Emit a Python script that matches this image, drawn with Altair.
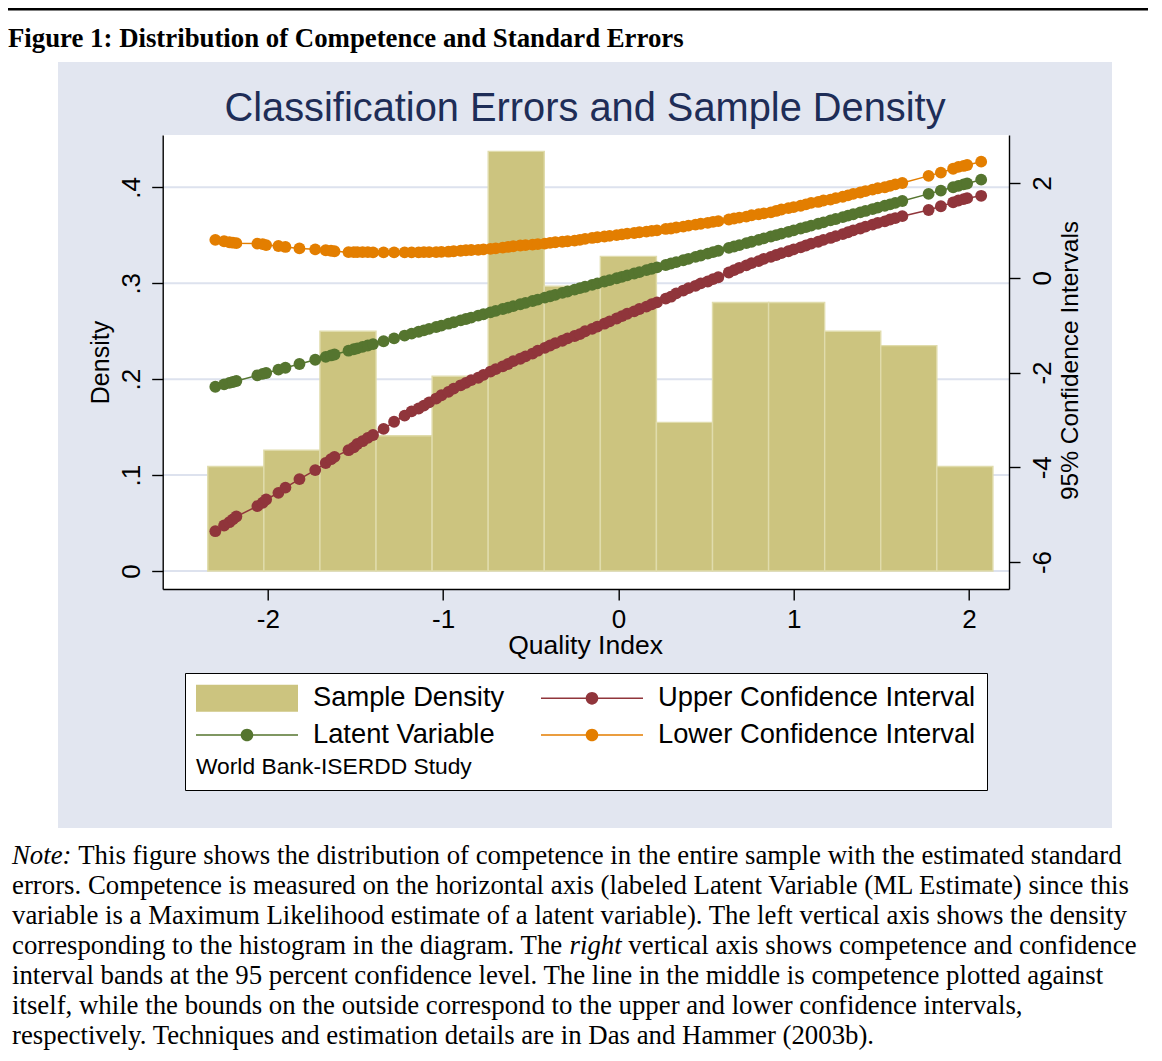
import altair as alt
import pandas as pd

# ---------------- data ----------------
bin_edges = [-2.343, -2.023, -1.703, -1.383, -1.063, -0.743, -0.423,
             -0.103, 0.217, 0.537, 0.857, 1.177, 1.497, 1.817, 2.137]
bin_density = [0.109, 0.126, 0.250, 0.141, 0.203, 0.4375, 0.297,
               0.328, 0.155, 0.280, 0.280, 0.250, 0.235, 0.109]

latent = [-2.30, -2.25, -2.22, -2.20, -2.18, -2.06, -2.03, -2.01, -1.94, -1.90,
          -1.82, -1.73, -1.67, -1.64, -1.62, -1.54, -1.51, -1.49, -1.46, -1.43,
          -1.40, -1.34, -1.28, -1.22, -1.18, -1.14, -1.11, -1.08, -1.04, -1.01,
          -0.97, -0.94, -0.90, -0.87, -0.84, -0.80, -0.77, -0.73, -0.70, -0.66,
          -0.63, -0.60, -0.56, -0.53, -0.49, -0.46, -0.42, -0.39, -0.36, -0.32,
          -0.29, -0.25, -0.22, -0.19, -0.15, -0.12, -0.08, -0.05, -0.01, 0.02,
          0.05, 0.09, 0.12, 0.16, 0.19, 0.22,
          0.27, 0.30, 0.33, 0.37, 0.40, 0.44, 0.47, 0.51, 0.54, 0.57,
          0.63, 0.66, 0.69, 0.73, 0.76, 0.80, 0.83, 0.87, 0.90, 0.93,
          0.97, 1.00, 1.04, 1.07, 1.10, 1.14, 1.17, 1.21, 1.24, 1.28,
          1.31, 1.34, 1.38, 1.41, 1.45, 1.48, 1.52, 1.55, 1.58, 1.62,
          1.77, 1.84, 1.91, 1.94, 1.97, 1.99, 2.07]

upper_ci = [-5.35, -5.23, -5.16, -5.10, -5.04, -4.82, -4.75, -4.68, -4.54, -4.43,
            -4.25, -4.06, -3.91, -3.83, -3.78, -3.64, -3.58, -3.51, -3.45, -3.38,
            -3.32, -3.19, -3.04, -2.91, -2.82, -2.76, -2.70, -2.63, -2.55, -2.48,
            -2.41, -2.34, -2.27, -2.22, -2.16, -2.11, -2.05, -1.98, -1.93, -1.87,
            -1.82, -1.76, -1.71, -1.66, -1.60, -1.54, -1.48, -1.43, -1.38, -1.33,
            -1.28, -1.23, -1.19, -1.13, -1.08, -1.03, -0.97, -0.92, -0.86, -0.81,
            -0.76, -0.71, -0.66, -0.61, -0.56, -0.52,
            -0.44, -0.40, -0.33, -0.27, -0.22, -0.17, -0.12, -0.08, -0.03, 0.01,
            0.11, 0.16, 0.21, 0.26, 0.31, 0.35, 0.40, 0.44, 0.48, 0.52,
            0.56, 0.60, 0.64, 0.68, 0.72, 0.76, 0.80, 0.84, 0.88, 0.92,
            0.96, 1.00, 1.04, 1.08, 1.12, 1.16, 1.19, 1.23, 1.26, 1.30,
            1.43, 1.51, 1.59, 1.63, 1.66, 1.68, 1.73]

lower_ci = [0.80, 0.77, 0.75, 0.74, 0.73, 0.72, 0.71, 0.69, 0.67, 0.65,
            0.62, 0.60, 0.58, 0.57, 0.56, 0.54, 0.54, 0.54, 0.54, 0.54,
            0.535, 0.535, 0.535, 0.535, 0.535, 0.535, 0.54, 0.54, 0.54, 0.545,
            0.55, 0.56, 0.57, 0.58, 0.585, 0.59, 0.60, 0.61, 0.62, 0.635,
            0.65, 0.665, 0.68, 0.69, 0.70, 0.71, 0.72, 0.735, 0.75, 0.76,
            0.77, 0.785, 0.80, 0.82, 0.84, 0.855, 0.87, 0.885, 0.90, 0.915,
            0.93, 0.945, 0.96, 0.975, 0.99, 1.00,
            1.03, 1.04, 1.06, 1.08, 1.10, 1.12, 1.14, 1.16, 1.18, 1.195,
            1.23, 1.25, 1.27, 1.29, 1.32, 1.34, 1.36, 1.38, 1.41, 1.44,
            1.47, 1.49, 1.52, 1.55, 1.58, 1.60, 1.63, 1.65, 1.68, 1.71,
            1.74, 1.77, 1.80, 1.83, 1.86, 1.89, 1.91, 1.94, 1.97, 2.00,
            2.15, 2.22, 2.30, 2.34, 2.36, 2.38, 2.45]

x_ticks = [-2, -1, 0, 1, 2]
density_ticks = [0, 0.1, 0.2, 0.3, 0.4]
ci_ticks = [-6, -4, -2, 0, 2]

series_names = ["Sample Density", "Latent Variable",
                "Upper Confidence Interval", "Lower Confidence Interval"]

header_text = "Figure 1: Distribution of Competence and Standard Errors"
chart_title = "Classification Errors and Sample Density"
legend_note = "World Bank-ISERDD Study"
x_title = "Quality Index"
y_left_title = "Density"
y_right_title = "95% Confidence Intervals"

# note paragraph: list of lines, each line a list of (text, style, offset in em)
note_lines = [
    [("Note:", "italic", 0.0),
     ("This figure shows the distribution of competence in the entire sample with the estimated standard", "normal", 2.472)],
    [("errors. Competence is measured on the horizontal axis (labeled Latent Variable (ML Estimate) since this", "normal", 0.0)],
    [("variable is a Maximum Likelihood estimate of a latent variable). The left vertical axis shows the density", "normal", 0.0)],
    [("corresponding to the histogram in the diagram. The", "normal", 0.0),
     ("right", "italic", 20.803),
     ("vertical axis shows competence and confidence", "normal", 22.998)],
    [("interval bands at the 95 percent confidence level. The line in the middle is competence plotted against", "normal", 0.0)],
    [("itself, while the bounds on the outside correspond to the upper and lower confidence intervals,", "normal", 0.0)],
    [("respectively. Techniques and estimation details are in Das and Hammer (2003b).", "normal", 0.0)],
]

# ---------------- styling ----------------
SANS = "Liberation Sans"
SERIF = "Liberation Serif"
KHAKI = "#CCC47F"
KHAKI_EDGE = "#E0DCAC"
GREEN = "#55752F"
MAROON = "#90353B"
ORANGE = "#E37E00"
PANEL = "#E2E6F0"
GRID = "#DDE2EE"
TITLE_C = "#1E2D57"

W, H = 846.3, 454.0          # plot area
X0, Y0 = 162.7, 135.0        # plot area's top-left corner on the page
PAGE_W, PAGE_H = 1140, 1045


def px(sx):
    return sx - X0


def py(sy):
    return sy - Y0


xs = alt.Scale(domain=[-2.6003, 2.2288], nice=False, zero=False)
yL = alt.Scale(domain=[-0.01877, 0.4546], nice=False, zero=False)
yR = alt.Scale(domain=[-6.5699, 3.0132], nice=False, zero=False)

one = pd.DataFrame({"k": [0]})


def rect_layer(sx1, sx2, sy1, sy2, color):
    return alt.Chart(one).mark_rect(color=color).encode(
        x=alt.value(px(sx1)), x2=alt.value(px(sx2)),
        y=alt.value(py(sy1)), y2=alt.value(py(sy2)))


def text_layer(txt, sx, sy, size, font=SERIF, style="normal", weight="normal",
               color="black", align="left"):
    return alt.Chart(one).mark_text(
        text=txt, font=font, fontSize=size, fontStyle=style, fontWeight=weight,
        color=color, align=align, baseline="alphabetic").encode(
        x=alt.value(px(sx)), y=alt.value(py(sy)))


common_axis = dict(tickSize=11, tickWidth=1.4, tickColor="black", domainColor="black",
                   domainWidth=1.4, labelFont=SANS, labelFontSize=26, labelColor="black",
                   titleFont=SANS, titleFontWeight="normal",
                   titleColor="black", grid=False, labelFlush=False, zindex=1,
                   titleLimit=700, labelOverlap=False)

x_axis = alt.Axis(title=x_title, values=x_ticks, labelExpr="datum.value + ''",
                  labelAngle=0, labelAlign="center", labelBaseline="top", labelPadding=6,
                  titleAlign="center", titleBaseline="alphabetic", titleX=W / 2 - 0.8,
                  titleY=64.5, titleFontSize=26.5, **common_axis)
yL_axis = alt.Axis(title=y_left_title, orient="left", values=density_ticks,
                   labelExpr="datum.value == 0 ? '0' : replace(format(datum.value, '.1f'), '0.', '.')",
                   labelAngle=270, labelAlign="center", labelBaseline="bottom", labelPadding=7,
                   titleAngle=270, titleAlign="center", titleBaseline="alphabetic",
                   titleX=-54.7, titleY=227, titleFontSize=25, **common_axis)
yR_axis = alt.Axis(title=y_right_title, orient="right", values=ci_ticks,
                   labelExpr="datum.value + ''",
                   labelAngle=270, labelAlign="center", labelBaseline="top", labelPadding=9,
                   titleAngle=270, titleAlign="center", titleBaseline="alphabetic",
                   titleX=68, titleY=225, titleFontSize=24.5, **common_axis)

# ---------------- left group: page decoration + histogram ----------------
panel = rect_layer(58, 1112, 62, 828, PANEL)
top_rule = rect_layer(8, 8 + PAGE_W, 8, 10.5, "black")
plot_bg = rect_layer(X0, X0 + W, Y0, Y0 + H, "white")

grid = alt.Chart(pd.DataFrame({"g": density_ticks})).mark_rule(
    color=GRID, strokeWidth=2).encode(
    y=alt.Y("g:Q", scale=yL), x=alt.value(0), x2=alt.value(W))

hist_df = pd.DataFrame({"x0": bin_edges[:-1], "x1": bin_edges[1:], "density": bin_density})
bars = alt.Chart(hist_df).mark_rect(color=KHAKI, stroke=KHAKI_EDGE, strokeWidth=1.4).encode(
    x=alt.X("x0:Q", scale=xs, axis=x_axis),
    x2="x1:Q",
    y=alt.Y("density:Q", scale=yL, axis=yL_axis),
    y2=alt.datum(0))

header = text_layer(header_text, 8, 47, 26.8, weight="bold")
title = text_layer(chart_title, 585, 121, 39.8, font=SANS, color=TITLE_C, align="center")

NOTE_F = 26.8
note_layers = []
for i, line in enumerate(note_lines):
    for txt, style, off in line:
        note_layers.append(text_layer(txt, 12 + off * NOTE_F, 863.5 + 30.1 * i, NOTE_F,
                                      style=style))

left = alt.layer(panel, top_rule, plot_bg, grid, bars, header, title, *note_layers)

# ---------------- right group: latent variable and confidence bands ----------------
series_layers = []
for vals, col in [(upper_ci, MAROON), (latent, GREEN), (lower_ci, ORANGE)]:
    df = pd.DataFrame({"x": latent, "value": vals})
    series_layers.append(alt.Chart(df).mark_line(color=col, strokeWidth=1.5).encode(
        x=alt.X("x:Q", scale=xs), y=alt.Y("value:Q", scale=yR, axis=yR_axis)))
    series_layers.append(alt.Chart(df).mark_circle(color=col, size=140, opacity=1).encode(
        x=alt.X("x:Q", scale=xs), y=alt.Y("value:Q", scale=yR)))

# legend (entries come from the colour / shape scales)
U = 14.0  # px per symbol unit (sqrt(784)/2)
hw, hh, lt, r = 51 / U, 13.5 / U, 0.75 / U, 6.3 / U
swatch = f"M{-hw:.3f},{-hh:.3f}H{hw:.3f}V{hh:.3f}H{-hw:.3f}Z"
linedot = (f"M{-hw:.3f},{-lt:.3f}H{hw:.3f}V{lt:.3f}H{-hw:.3f}Z"
           f"M{r:.3f},0A{r:.3f},{r:.3f},0,1,1,{-r:.3f},0A{r:.3f},{r:.3f},0,1,1,{r:.3f},0Z")

leg = alt.Legend(title=legend_note, orient="none", legendX=px(185), legendY=py(673),
                 columns=2, columnPadding=35, rowPadding=9, padding=11, gridAlign="each",
                 strokeColor="black", fillColor="white",
                 symbolSize=784, symbolStrokeWidth=0, symbolOffset=37, symbolOpacity=1,
                 labelOffset=52, labelFont=SANS, labelFontSize=27.3, labelColor="black",
                 labelLimit=600, labelBaseline="middle",
                 titleOrient="bottom", titleAnchor="start", titleFont=SANS, titleFontSize=22.8,
                 titleFontWeight="normal", titleColor="black", titlePadding=8,
                 titleBaseline="top", titleLimit=600, zindex=2)

leg_df = pd.DataFrame({"series": series_names, "lx": [None] * 4, "ly": [None] * 4})
legend_layer = alt.Chart(leg_df).mark_point(filled=True, opacity=1, size=784).encode(
    x=alt.X("lx:Q", scale=xs),
    y=alt.Y("ly:Q", scale=yR),
    color=alt.Color("series:N", scale=alt.Scale(domain=series_names,
                                                range=[KHAKI, GREEN, MAROON, ORANGE]),
                    legend=leg),
    shape=alt.Shape("series:N", scale=alt.Scale(domain=series_names,
                                                range=[swatch, linedot, linedot, linedot]),
                    legend=leg))

right = alt.layer(*series_layers, legend_layer)

chart = alt.layer(left, right).resolve_scale(y="independent").properties(
    width=W, height=H,
    autosize=alt.AutoSizeParams(type="none"),
    padding={"left": X0 - 8, "top": Y0 - 8, "right": PAGE_W - (X0 - 8) - W,
             "bottom": PAGE_H - (Y0 - 8) - H},
    background="white",
).configure_view(strokeWidth=0)

chart.save("out.html", embed_options={"renderer": "svg", "actions": False})
